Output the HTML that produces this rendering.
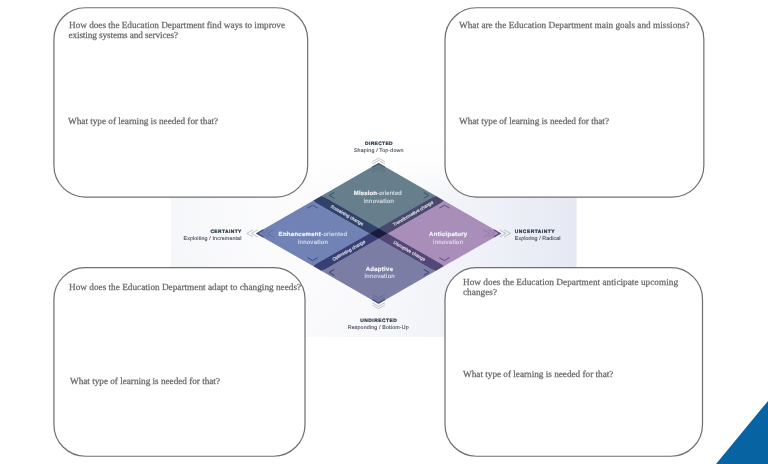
<!DOCTYPE html>
<html lang="en">
<head>
<meta charset="utf-8">
<title>Innovation facets worksheet</title>
<style>
html,body{margin:0;padding:0;}
body{width:768px;height:464px;overflow:hidden;background:#fff;position:relative;font-family:"Liberation Serif",serif;}
#diagram{position:absolute;left:0;top:0;width:768px;height:464px;will-change:transform;}
#boxes{position:absolute;left:0;top:0;width:768px;height:464px;}
.q{position:absolute;margin:0;white-space:nowrap;color:#686868;-webkit-text-stroke:0.25px #686868;font-size:9.25px;line-height:10px;will-change:transform;text-rendering:geometricPrecision;}
#corner{position:absolute;right:0;bottom:0;width:52px;height:63px;}
</style>
</head>
<body>
<svg id="diagram" viewBox="0 0 768 464" width="768" height="464">
  <defs>
    <linearGradient id="bgh" x1="0" x2="1" y1="0" y2="0">
      <stop offset="0" stop-color="#f6f7fa"/><stop offset="0.3" stop-color="#fcfcfd"/><stop offset="0.5" stop-color="#fafafc"/><stop offset="0.75" stop-color="#f0f2f8"/><stop offset="1" stop-color="#e6e9f3"/>
    </linearGradient>
    <linearGradient id="bgv" x1="0" x2="0" y1="0" y2="1">
      <stop offset="0" stop-color="#fff" stop-opacity="1"/><stop offset="0.15" stop-color="#fff" stop-opacity="0.9"/><stop offset="0.34" stop-color="#fff" stop-opacity="0"/><stop offset="0.55" stop-color="#e3e6f1" stop-opacity="0"/><stop offset="1" stop-color="#e3e6f1" stop-opacity="0.12"/>
    </linearGradient>
  </defs>
  <rect x="171" y="129" width="405.6" height="208" fill="url(#bgh)"/>
  <rect x="171" y="129" width="405.6" height="208" fill="url(#bgv)"/>
  <polygon id="base" points="378.6,165.8 496.3,233.4 378.6,301.0 260.9,233.4" fill="#3e4470"/>
  <g id="quadrants">
    <polygon points="378.6,163.0 435.6,195.7 378.6,228.5 321.6,195.7" fill="#677f8d"/>
    <polygon points="313.0,200.7 370.0,233.4 313.0,266.1 256.0,233.4" fill="#7083b4"/>
    <polygon points="444.2,200.7 501.2,233.4 444.2,266.1 387.2,233.4" fill="#a88eb8"/>
    <polygon points="378.6,238.3 435.6,271.1 378.6,303.8 321.6,271.1" fill="#7b7da5"/>
  </g>
  <g id="bands">
    <polygon points="321.6,195.7 378.6,228.5 370.0,233.4 313.0,200.7" fill="#304268"/>
    <polygon points="435.6,195.7 444.2,200.7 387.2,233.4 378.6,228.5" fill="#49496e"/>
    <polygon points="370.0,233.4 378.6,238.3 321.6,271.1 313.0,266.1" fill="#373f74"/>
    <polygon points="387.2,233.4 444.2,266.1 435.6,271.1 378.6,238.3" fill="#544676"/>
    <polygon points="378.6,228.5 387.2,233.4 378.6,238.3 370.0,233.4" fill="#1a1a40"/>
  </g>
  <g id="arrows-out" fill="none" stroke="#9097a3" stroke-width="0.55">
    <polyline points="257.7,229.8 251.4,233.4 257.7,237.0"/>
    <polyline points="499.5,229.8 505.8,233.4 499.5,237.0"/>
    <polyline points="372.3,164.1 378.6,160.5 384.9,164.1"/>
    <polyline points="372.3,302.7 378.6,306.3 384.9,302.7"/>
    <polyline points="253.1,229.8 246.8,233.4 253.1,237.0"/>
    <polyline points="504.1,229.8 510.4,233.4 504.1,237.0"/>
    <polyline points="372.3,161.8 378.6,158.2 384.9,161.8"/>
    <polyline points="372.3,305.0 378.6,308.6 384.9,305.0"/>
  </g>
  <g id="arrows-in" fill="none" stroke-width="0.7">
   <g stroke-width="1.3">
    <polyline stroke="#3d4e78" points="263.5,229.8 257.2,233.4 263.5,237.0"/>
    <polyline stroke="#5f4c80" points="493.7,229.8 500.0,233.4 493.7,237.0"/>
    <polyline stroke="#41586a" points="372.3,167.3 378.6,163.7 384.9,167.3"/>
    <polyline stroke="#46497e" points="372.3,299.5 378.6,303.1 384.9,299.5"/>
   </g>
    <polyline stroke="#5669a6" points="269.1,229.8 262.8,233.4 269.1,237.0"/>
    <polyline stroke="#8b70a6" points="488.1,229.8 494.4,233.4 488.1,237.0"/>
    <polyline stroke="#526b7b" points="372.3,169.9 378.6,166.3 384.9,169.9"/>
    <polyline stroke="#5d6198" points="372.3,296.9 378.6,300.5 384.9,296.9"/>
    <polyline stroke="#5669a6" points="273.7,229.8 267.4,233.4 273.7,237.0"/>
    <polyline stroke="#8b70a6" points="483.5,229.8 489.8,233.4 483.5,237.0"/>
    <polyline stroke="#526b7b" points="372.3,172.2 378.6,168.6 384.9,172.2"/>
    <polyline stroke="#5d6198" points="372.3,294.6 378.6,298.2 384.9,294.6"/>
  </g>
  <g id="marks" fill="none" stroke-width="1">
    <polyline stroke="#36535f" points="334.4,192.4 329.2,195.4 334.4,198.4"/>
    <polyline stroke="#36535f" points="423.7,192.4 428.9,195.4 423.7,198.4"/>
    <polyline stroke="#3f5294" points="307.4,208.2 312.6,205.2 317.8,208.2"/>
    <polyline stroke="#384a8c" points="307.4,257.6 312.6,260.6 317.8,257.6"/>
    <polyline stroke="#664a88" points="439.2,208.2 444.4,205.2 449.6,208.2"/>
    <polyline stroke="#664a88" points="439.2,257.6 444.4,260.6 449.6,257.6"/>
    <polyline stroke="#3a3e78" points="334.4,269.4 329.2,272.4 334.4,275.4"/>
    <polyline stroke="#3a3e78" points="423.7,269.4 428.9,272.4 423.7,275.4"/>
  </g>
  <g id="labels" font-family="'Liberation Sans', sans-serif" text-rendering="geometricPrecision">
    <text x="365.1" y="144.6" font-size="4.9" fill="#1f2c3d" stroke="#1f2c3d" stroke-width="0.2" font-weight="bold" letter-spacing="0.351">DIRECTED</text>
    <text x="353.9" y="151.7" font-size="5.3" fill="#474f5c" stroke="#474f5c" stroke-width="0.12" letter-spacing="0.167">Shaping / Top-down</text>
    <text x="210.4" y="232.8" font-size="4.9" fill="#1f2c3d" stroke="#1f2c3d" stroke-width="0.2" font-weight="bold" letter-spacing="0.416">CERTAINTY</text>
    <text x="183.5" y="239.5" font-size="5.3" fill="#474f5c" stroke="#474f5c" stroke-width="0.12" letter-spacing="0.122">Exploiting / Incremental</text>
    <text x="514.8" y="232.8" font-size="4.9" fill="#1f2c3d" stroke="#1f2c3d" stroke-width="0.2" font-weight="bold" letter-spacing="0.495">UNCERTAINTY</text>
    <text x="514.8" y="239.6" font-size="5.3" fill="#474f5c" stroke="#474f5c" stroke-width="0.12" letter-spacing="0.084">Exploring / Radical</text>
    <text x="360.2" y="321.8" font-size="4.9" fill="#1f2c3d" stroke="#1f2c3d" stroke-width="0.2" font-weight="bold" letter-spacing="0.497">UNDIRECTED</text>
    <text x="347.7" y="328.7" font-size="5.3" fill="#474f5c" stroke="#474f5c" stroke-width="0.12" letter-spacing="0.141">Responding / Bottom-Up</text>
    <text x="353.8" y="195.0" font-size="6.0" letter-spacing="0.126"><tspan font-weight="bold" fill="#f5f6f9" stroke="#f5f6f9" stroke-width="0.18">Mission</tspan><tspan fill="#e1e6ed" stroke="#e1e6ed" stroke-width="0.08">-oriented</tspan></text>
    <text x="363.7" y="202.8" font-size="6.0" letter-spacing="0.316" fill="#e1e6ed" stroke="#e1e6ed" stroke-width="0.08">innovation</text>
    <text x="278.6" y="236.1" font-size="6.0" letter-spacing="0.288"><tspan font-weight="bold" fill="#f5f6f9" stroke="#f5f6f9" stroke-width="0.18">Enhancement</tspan><tspan fill="#e1e6ed" stroke="#e1e6ed" stroke-width="0.08">-oriented</tspan></text>
    <text x="297.9" y="243.7" font-size="6.0" letter-spacing="0.283" fill="#e1e6ed" stroke="#e1e6ed" stroke-width="0.08">innovation</text>
    <text x="429.1" y="236.1" font-size="6.0" letter-spacing="0.281"><tspan font-weight="bold" fill="#f5f6f9" stroke="#f5f6f9" stroke-width="0.18">Anticipatory</tspan></text>
    <text x="433.0" y="243.7" font-size="6.0" letter-spacing="0.305" fill="#e1e6ed" stroke="#e1e6ed" stroke-width="0.08">innovation</text>
    <text x="365.7" y="270.8" font-size="6.0" letter-spacing="0.28"><tspan font-weight="bold" fill="#f5f6f9" stroke="#f5f6f9" stroke-width="0.18">Adaptive</tspan></text>
    <text x="364.6" y="278.4" font-size="6.0" letter-spacing="0.305" fill="#e1e6ed" stroke="#e1e6ed" stroke-width="0.08">innovation</text>
    <text transform="translate(347.1 215.3) rotate(29.9)" x="-18.5" y="1.40" font-size="4.5" fill="#e4e7ee" stroke="#e4e7ee" stroke-width="0.12">Sustaining change</text>
    <text transform="translate(413.1 213.6) rotate(-29.9)" x="-22.9" y="1.40" font-size="4.5" fill="#e4e7ee" stroke="#e4e7ee" stroke-width="0.12">Transformative change</text>
    <text transform="translate(348.8 250.5) rotate(-29.9)" x="-18.6" y="1.40" font-size="4.5" fill="#e4e7ee" stroke="#e4e7ee" stroke-width="0.12">Optimising change</text>
    <text transform="translate(409.4 251.1) rotate(29.9)" x="-18.0" y="1.40" font-size="4.5" fill="#e4e7ee" stroke="#e4e7ee" stroke-width="0.12">Disruptive change</text>
  </g>
</svg>

<svg id="boxes" viewBox="0 0 768 464" width="768" height="464">
  <g fill="#fff" stroke="#707070" stroke-width="1.22">
    <rect x="53.92" y="7.74" width="253.75" height="189.31" rx="31.5" ry="31.5"/>
    <rect x="445.00" y="7.74" width="258.85" height="189.31" rx="31.5" ry="31.5"/>
    <rect x="53.92" y="267.70" width="251.08" height="188.55" rx="31.5" ry="31.5"/>
    <rect x="445.00" y="267.70" width="257.50" height="188.55" rx="31.5" ry="31.5"/>
  </g>
</svg>

<p class="q" id="t1" style="left:68.6px;top:20.6px;letter-spacing:-0.035px;">How does the Education Department find ways to improve<br><span style="letter-spacing:-0.109px;margin-left:-0.6px;">existing systems and services?</span></p>
<p class="q" id="t2" style="left:68.4px;top:116.6px;letter-spacing:-0.027px;">What type of learning is needed for that?</p>
<p class="q" id="t3" style="left:459.0px;top:20.6px;letter-spacing:0.008px;">What are the Education Department main goals and missions?</p>
<p class="q" id="t4" style="left:459.1px;top:116.6px;letter-spacing:-0.032px;">What type of learning is needed for that?</p>
<p class="q" id="t5" style="left:68.6px;top:282.6px;letter-spacing:-0.002px;">How does the Education Department adapt to changing needs?</p>
<p class="q" id="t6" style="left:69.8px;top:376.6px;letter-spacing:-0.032px;">What type of learning is needed for that?</p>
<p class="q" id="t7" style="left:462.6px;top:277.6px;letter-spacing:0.015px;">How does the Education Department anticipate upcoming<br>changes?</p>
<p class="q" id="t8" style="left:462.6px;top:369.6px;letter-spacing:-0.022px;">What type of learning is needed for that?</p>

<svg id="corner" viewBox="0 0 52 63"><polygon points="52,0 52,63 0,63" fill="#0763a1"/></svg>
</body>
</html>
